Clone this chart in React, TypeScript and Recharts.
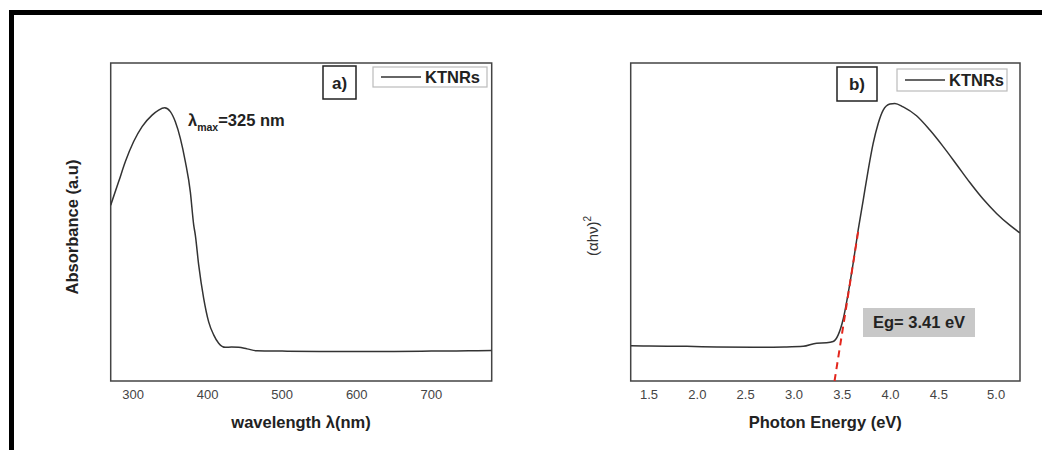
import { LineChart, Line, XAxis, YAxis, ReferenceArea, ReferenceLine } from "recharts";

const FONT = '"Liberation Sans", Arial, sans-serif';

// panel a) UV-vis absorbance
const wavelengthNm = [
  270, 280.7, 289.7, 300.8, 312.1, 325.5, 334.3, 342.4, 350, 356.7, 363.4, 370.1, 376.8, 381.3,
  383.5, 388, 394.7, 401.4, 408.1, 414.8, 423.8, 432, 441.6, 452.9, 466.3, 500, 550, 600, 650,
  700, 750, 781,
];
const absorbance = [
  0.553, 0.627, 0.69, 0.753, 0.8, 0.836, 0.852, 0.859, 0.847, 0.815, 0.763, 0.69, 0.595, 0.491,
  0.459, 0.365, 0.26, 0.186, 0.145, 0.119, 0.106, 0.107, 0.106, 0.101, 0.095, 0.094, 0.093,
  0.093, 0.093, 0.094, 0.095, 0.096,
];
const wavelengthTicks = [300, 400, 500, 600, 700];

// panel b) Tauc plot
const photonEnergy = [
  1.311, 1.5, 1.89, 2.2, 2.579, 2.9, 3.096, 3.235, 3.338, 3.406, 3.458, 3.51, 3.562, 3.613,
  3.665, 3.717, 3.769, 3.82, 3.872, 3.924, 3.993, 4.045, 4.131, 4.269, 4.407, 4.545, 4.683,
  4.821, 4.958, 5.097, 5.234, 5.338,
];
const tauc = [
  0.111, 0.11, 0.109, 0.107, 0.106, 0.107, 0.109, 0.119, 0.12, 0.124, 0.145, 0.195, 0.277, 0.371,
  0.475, 0.569, 0.664, 0.747, 0.81, 0.852, 0.871, 0.873, 0.862, 0.834, 0.789, 0.737, 0.681,
  0.624, 0.572, 0.527, 0.49, 0.466,
];
const energyTicks = [1.5, 2.0, 2.5, 3.0, 3.5, 4.0, 4.5, 5.0];
const bandGapFit = [
  { x: 3.42, y: 0 },
  { x: 3.67, y: 0.48 },
];

const absorbanceData = wavelengthNm.map((x, i) => ({ x, y: absorbance[i] }));
const taucData = photonEnergy.map((x, i) => ({ x, y: tauc[i] }));

const EnergyTick = (props: any) => {
  const { x, y, payload } = props;
  const shift = payload.value === 5 ? 9 : 0;
  return (
    <text x={x + shift} y={y} dy="0.71em" textAnchor="middle" fontSize={13} fill="#444">
      {Number(payload.value).toFixed(1)}
    </text>
  );
};

const WaveTick = (props: any) => {
  const { x, y, payload } = props;
  return (
    <text x={x} y={y} dy="0.71em" textAnchor="middle" fontSize={13} fill="#444">
      {payload.value}
    </text>
  );
};

function LegendBox({ x, y, w, h }: { x: number; y: number; w: number; h: number }) {
  return (
    <g>
      <rect x={x} y={y} width={w} height={h} fill="#fff" stroke="#bbb" strokeWidth={1.2} />
      <line x1={x + 8} x2={x + 48} y1={y + h / 2} y2={y + h / 2} stroke="#333" strokeWidth={1.5} />
      <text x={x + 52} y={y + h / 2 + 6} fontSize={16.5} fontWeight="bold" fill="#222">
        KTNRs
      </text>
    </g>
  );
}

function PanelTag({ x, y, w, h, label }: { x: number; y: number; w: number; h: number; label: string }) {
  return (
    <g>
      <rect x={x} y={y} width={w} height={h} fill="#fff" stroke="#222" strokeWidth={1.5} />
      <text x={x + w / 2} y={y + h / 2 + 6} textAnchor="middle" fontSize={17} fontWeight="bold" fill="#222">
        {label}
      </text>
    </g>
  );
}

function AbsorbancePanel() {
  return (
    <LineChart width={520} height={450} data={absorbanceData} margin={{ top: 63, right: 28.3, bottom: 0, left: 110.7 }}>
      <XAxis
        type="number"
        dataKey="x"
        domain={[270, 781]}
        ticks={wavelengthTicks}
        allowDataOverflow
        axisLine={false}
        tickLine={false}
        tickMargin={3}
        height={69}
        tick={<WaveTick />}
      />
      <YAxis type="number" domain={[0, 1]} hide />
      <ReferenceArea x1={270} x2={781} y1={0} y2={1} fill="none" fillOpacity={0} stroke="#444" strokeWidth={1.5} />
      <Line type="monotone" dataKey="y" stroke="#333" strokeWidth={1.5} dot={false} isAnimationActive={false} />
      <PanelTag x={323} y={66} w={33} h={33} label="a)" />
      <LegendBox x={373} y={67} w={114} h={20} />
      <text x={188} y={126} fontSize={16.5} fontWeight="bold" fill="#222">
        λ
        <tspan fontSize={10.5} dy={5}>max</tspan>
        <tspan fontSize={16.5} dy={-5}>=325 nm</tspan>
      </text>
      <text x={301} y={428} textAnchor="middle" fontSize={16.5} fontWeight="bold" fill="#222">
        wavelength λ(nm)
      </text>
      <text transform="translate(78, 227) rotate(-90)" textAnchor="middle" fontSize={16.5} fontWeight="bold" fill="#222">
        Absorbance (a.u)
      </text>
    </LineChart>
  );
}

function TaucPanel() {
  return (
    <LineChart width={522} height={450} data={taucData} margin={{ top: 63, right: 22, bottom: 0, left: 110.7 }}>
      <XAxis
        type="number"
        dataKey="x"
        domain={[1.31, 5.34]}
        ticks={energyTicks}
        allowDataOverflow
        axisLine={false}
        tickLine={false}
        tickMargin={3}
        height={69}
        tick={<EnergyTick />}
      />
      <YAxis type="number" domain={[0, 1]} hide />
      <ReferenceArea x1={1.31} x2={5.34} y1={0} y2={1} fill="none" fillOpacity={0} stroke="#444" strokeWidth={1.5} />
      <Line type="monotone" dataKey="y" stroke="#333" strokeWidth={1.5} dot={false} isAnimationActive={false} />
      <ReferenceLine segment={bandGapFit} stroke="#e3261d" strokeWidth={2} strokeDasharray="7 5" />
      <PanelTag x={317} y={67} w={40} h={34} label="b)" />
      <LegendBox x={377} y={69} w={110} h={22} />
      <rect x={343} y={308} width={112} height={29} fill="#c8c8c8" />
      <text x={399} y={328} textAnchor="middle" fontSize={16.5} fontWeight="bold" fill="#222">
        Eg= 3.41 eV
      </text>
      <text x={305.3} y={427.5} textAnchor="middle" fontSize={16.5} fontWeight="bold" fill="#222">
        Photon Energy (eV)
      </text>
      <text transform="translate(78, 236) rotate(-90)" textAnchor="middle" fontSize={15} fill="#333">
        (αhν)
        <tspan fontSize={10} dy={-7}>2</tspan>
      </text>
    </LineChart>
  );
}

export default function App() {
  return (
    <div
      style={{
        position: "absolute",
        left: 0,
        top: 0,
        width: 1042,
        height: 450,
        background: "#fff",
        fontFamily: FONT,
        overflow: "hidden",
      }}
    >
      <div
        style={{
          position: "absolute",
          left: 9,
          top: 10,
          right: 0,
          bottom: 0,
          borderTop: "5px solid #000",
          borderLeft: "5px solid #000",
        }}
      />
      <div style={{ position: "absolute", left: 0, top: 0 }}>
        <AbsorbancePanel />
      </div>
      <div style={{ position: "absolute", left: 520, top: 0 }}>
        <TaucPanel />
      </div>
    </div>
  );
}
